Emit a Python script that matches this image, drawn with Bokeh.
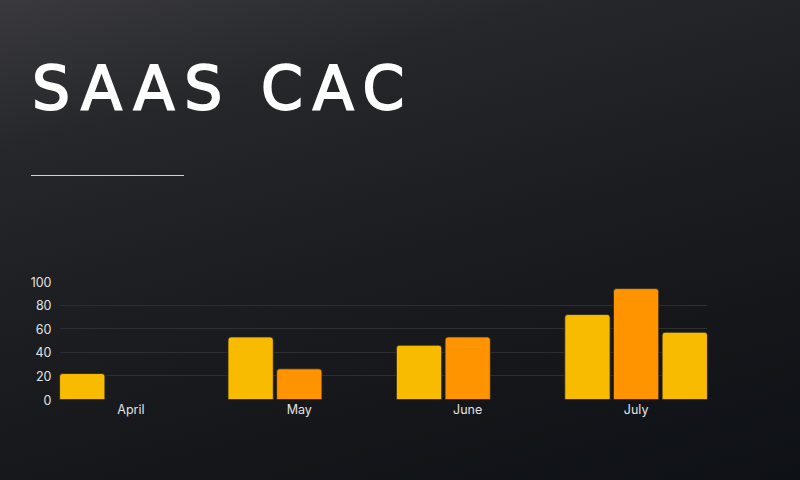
from bokeh.plotting import figure
from bokeh.models import FixedTicker, ColumnDataSource, Range1d, Div
from bokeh.layouts import column
from bokeh.embed import file_html
from bokeh.resources import INLINE

# ---- data ----
months = ["April", "May", "June", "July"]
series_a = [22, 53, 46, 72]          # first bar (yellow)
series_b = [None, 26, 53, 94]        # second bar (orange)
series_c = [None, None, None, 57]    # third bar (yellow)
y_ticks = [0, 20, 40, 60, 80, 100]
title_text = "SAAS CAC"

YELLOW = "#F8BB00"
ORANGE = "#FF9300"

W, H = 800, 480
HEAD = 200
FL, FR, FT, FB = 59, 93, 281 - HEAD, 81   # frame borders

header = Div(
    width=W, height=HEAD, margin=0,
    text=(
        '<div style="position:relative;width:800px;height:200px;">'
        '<div style="position:absolute;left:32px;top:58px;font-family:\'DejaVu Sans\';'
        'font-size:60px;line-height:60px;letter-spacing:9.8px;color:#ffffff;'
        '-webkit-text-stroke:1.8px #ffffff;white-space:nowrap;">' + title_text + '</div>'
        '<div style="position:absolute;left:31px;top:175px;width:153px;height:1px;'
        'background:#d2d2d2;"></div>'
        '</div>'
    ),
)

p = figure(width=W, height=H - HEAD, output_backend="svg", toolbar_location=None,
           x_range=Range1d(-0.424, 3.424), y_range=Range1d(0, 100),
           min_border_left=FL, min_border_right=FR, min_border_top=FT, min_border_bottom=FB,
           margin=0)
p.border_fill_color = None
p.background_fill_color = None
p.outline_line_color = None

slot = 0.289
bw = 0.269
for j, (vals, col) in enumerate([(series_a, YELLOW), (series_b, ORANGE), (series_c, YELLOW)]):
    xs, tops = [], []
    for i, v in enumerate(vals):
        if v is not None:
            xs.append(i + (j - 1) * slot)
            tops.append(v)
    src = ColumnDataSource(dict(x=xs, top=tops))
    p.vbar(x="x", top="top", width=bw, source=src, fill_color=col,
           line_color="#2a2416", line_width=0.8, border_radius=(3, 3, 0, 0))

# axes
p.xaxis.ticker = FixedTicker(ticks=list(range(len(months))))
p.xaxis.major_label_overrides = {i: m for i, m in enumerate(months)}
p.yaxis.ticker = FixedTicker(ticks=y_ticks)
for ax in (p.xaxis[0], p.yaxis[0]):
    ax.axis_line_color = None
    ax.major_tick_line_color = None
    ax.minor_tick_line_color = None
    ax.major_tick_out = 0
    ax.major_tick_in = 0
    ax.minor_tick_out = 0
    ax.minor_tick_in = 0
    ax.major_label_text_color = "#e2e2e2"
    ax.major_label_text_font = "Inter"
    ax.major_label_text_font_size = "12.5px"
p.yaxis.major_label_standoff = 8
p.xaxis.major_label_standoff = 2
p.xgrid.grid_line_color = None
p.ygrid.grid_line_color = "#2b2e35"
p.ygrid.grid_line_width = 1

page = column(header, p, width=W, height=H, spacing=0, margin=0,
              styles={"background": "linear-gradient(165deg, #3a3a3d 0%, #26272b 22%, #1b1d21 50%, #14161a 75%, #0e1116 100%)"})

open("out.html", "w").write(file_html(page, INLINE))
